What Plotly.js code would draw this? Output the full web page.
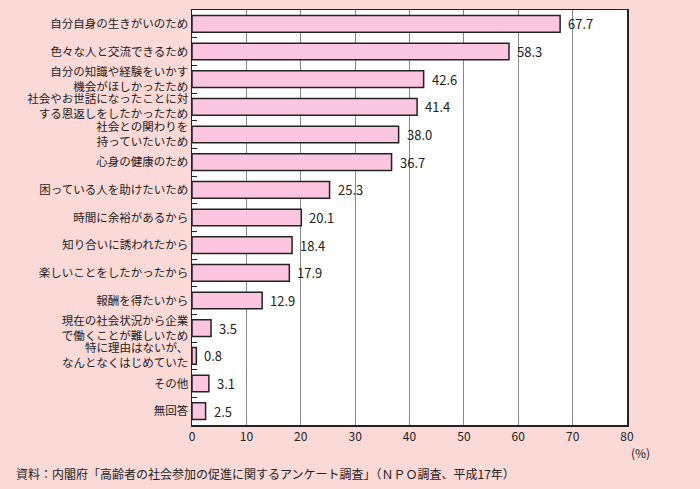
<!DOCTYPE html>
<html>
<head>
<meta charset="utf-8">
<script src="https://cdn.plot.ly/plotly-3.0.1.min.js"></script>
<style>html,body{margin:0;padding:0;background:#fbd9d6;}</style>
</head>
<body>
<div id="chart" style="width:700px;height:489px;"></div>
<script>
const categories = [
  "自分自身の生きがいのため",
  "色々な人と交流できるため",
  "自分の知識や経験をいかす<br>機会がほしかったため",
  "社会やお世話になったことに対<br>する恩返しをしたかったため",
  "社会との関わりを<br>持っていたいため",
  "心身の健康のため",
  "困っている人を助けたいため",
  "時間に余裕があるから",
  "知り合いに誘われたから",
  "楽しいことをしたかったから",
  "報酬を得たいから",
  "現在の社会状況から企業<br>で働くことが難しいため",
  "特に理由はないが、<br>なんとなくはじめていた",
  "その他",
  "無回答"
];
const values = [67.7, 58.3, 42.6, 41.4, 38.0, 36.7, 25.3, 20.1, 18.4, 17.9, 12.9, 3.5, 0.8, 3.1, 2.5];
const valueLabels = values.map(v => v.toFixed(1));
const xTicks = [0, 10, 20, 30, 40, 50, 60, 70, 80];

const font = "'Noto Sans CJK JP', 'Noto Sans', sans-serif";

const valueAnnotations = values.map((v, i) => ({
  x: v, y: categories[i], xref: 'x', yref: 'y',
  text: valueLabels[i], showarrow: false,
  xanchor: 'left', yanchor: 'middle', xshift: 6,
  font: {family: font, size: 13, color: '#222'}
}));

Plotly.newPlot('chart', [{
  type: 'bar',
  orientation: 'h',
  y: categories,
  x: values,
  width: 0.6,
  marker: {color: '#fcc6e1', line: {color: '#222', width: 1.5}},
  hoverinfo: 'none'
}], {
  width: 700, height: 489,
  paper_bgcolor: '#fbd9d6',
  plot_bgcolor: '#ffffff',
  margin: {l: 192, r: 73, t: 10, b: 64},
  showlegend: false,
  font: {family: font, size: 12, color: '#222'},
  xaxis: {
    range: [0, 80],
    tickvals: xTicks,
    ticktext: xTicks.map(String),
    showgrid: true, gridcolor: '#888', gridwidth: 1,
    zeroline: false,
    showline: true, linecolor: '#222', linewidth: 1.5, mirror: true,
    ticks: '', tickfont: {family: font, size: 12, color: '#222'},
    fixedrange: true
  },
  yaxis: {
    type: 'category',
    autorange: 'reversed',
    showgrid: false,
    showline: true, linecolor: '#222', linewidth: 1.5, mirror: true,
    ticks: 'inside', tickson: 'boundaries', ticklen: 5, tickcolor: '#222', tickwidth: 1,
    tickfont: {family: font, size: 11.5, color: '#222'},
    fixedrange: true
  },
  annotations: valueAnnotations.concat([
    {xref: 'paper', yref: 'paper', x: 1.0, y: -0.042, xanchor: 'left', yanchor: 'top',
     text: '(%)', showarrow: false, font: {family: font, size: 12, color: '#222'}, xshift: 2},
    {xref: 'paper', yref: 'paper', x: -192/435, y: -0.092, xanchor: 'left', yanchor: 'top',
     text: '資料：内閣府「高齢者の社会参加の促進に関するアンケート調査」（ＮＰＯ調査、平成17年）',
     showarrow: false, font: {family: font, size: 12, color: '#222'}, xshift: 14}
  ])
}, {displayModeBar: false, staticPlot: true});
</script>
</body>
</html>
